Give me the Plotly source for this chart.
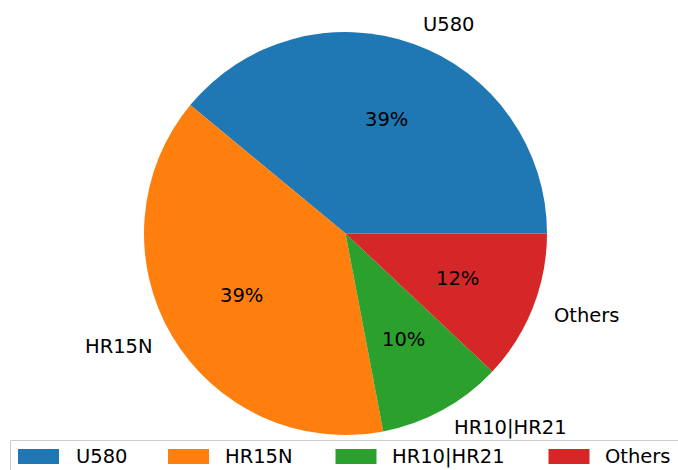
import math
import plotly.graph_objects as go

# ---- data ----
labels = ["U580", "HR15N", "HR10|HR21", "Others"]
values = [39, 39, 10, 12]
colors = ["#1f77b4", "#ff7f0e", "#2ca02c", "#d62728"]

# ---- layout constants (pixels) ----
W, H = 678, 470
ML, MR, MT, MB = 144, 131, 32, 35
PW, PH = W - ML - MR, H - MT - MB
FONT = "DejaVu Sans"
FS = 19.5

def px2x(px):
    return (px - ML) / PW

def px2y(py):
    return (H - MB - py) / PH

total = sum(values)
# plotly's counterclockwise pies end the first slice at `rotation`;
# make the first slice start at 3 o'clock like matplotlib
rot = 90 - 360 * values[0] / total

fig = go.Figure()
fig.add_trace(go.Pie(
    labels=labels, values=values, sort=False,
    direction="counterclockwise", rotation=rot,
    marker=dict(colors=colors, line=dict(width=0)),
    textinfo="none", hoverinfo="label+percent",
    showlegend=False,
    domain=dict(x=[0, 1], y=[0, 1]),
))

annotations = []
shapes = []
start = 0.0
for lab, v in zip(labels, values):
    frac = v / total
    mid = 2 * math.pi * (start + frac / 2)
    start += frac
    c, s = math.cos(mid), math.sin(mid)
    annotations.append(dict(
        x=0.5 + 0.5 * 0.6 * c, y=0.5 + 0.5 * 0.6 * s, xref="paper", yref="paper",
        text=f"{round(frac * 100):.0f}%", showarrow=False,
        xanchor="center", yanchor="middle",
        font=dict(family=FONT, size=FS, color="black"),
    ))
    annotations.append(dict(
        x=0.5 + 0.5 * 1.1 * c, y=0.5 + 0.5 * 1.1 * s, xref="paper", yref="paper",
        text=lab, showarrow=False,
        xanchor="left" if c > 0 else "right", yanchor="middle",
        font=dict(family=FONT, size=FS, color="black"),
    ))

# ---- custom legend (matplotlib style) ----
leg_patch_x = [18, 168, 335.5, 548.5]
leg_text_x = [74, 223, 390, 603]
patch_w, patch_y0, patch_y1 = 41, 449, 464
shapes.append(dict(
    type="rect", xref="paper", yref="paper",
    x0=px2x(10.5), x1=px2x(700), y0=px2y(440.5), y1=px2y(490),
    line=dict(color="#cccccc", width=1), fillcolor="rgba(255,255,255,0.8)",
    layer="above",
))
for lab, col, xp, xt in zip(labels, colors, leg_patch_x, leg_text_x):
    shapes.append(dict(
        type="rect", xref="paper", yref="paper",
        x0=px2x(xp), x1=px2x(xp + patch_w), y0=px2y(patch_y0), y1=px2y(patch_y1),
        line=dict(width=0), fillcolor=col, layer="above",
    ))
    annotations.append(dict(
        x=px2x(xt), y=px2y((patch_y0 + patch_y1) / 2), xref="paper", yref="paper",
        text=lab, showarrow=False, xanchor="left", yanchor="middle",
        font=dict(family=FONT, size=FS, color="black"),
    ))

fig.update_layout(
    width=W, height=H,
    margin=dict(l=ML, r=MR, t=MT, b=MB),
    paper_bgcolor="white", plot_bgcolor="white",
    annotations=annotations, shapes=shapes,
    showlegend=False,
    font=dict(family=FONT, size=FS, color="black"),
)

fig.write_html(
    "out.html",
    config={"displayModeBar": False},
    post_script="document.body.style.margin='0';document.body.style.overflow='hidden';",
)
